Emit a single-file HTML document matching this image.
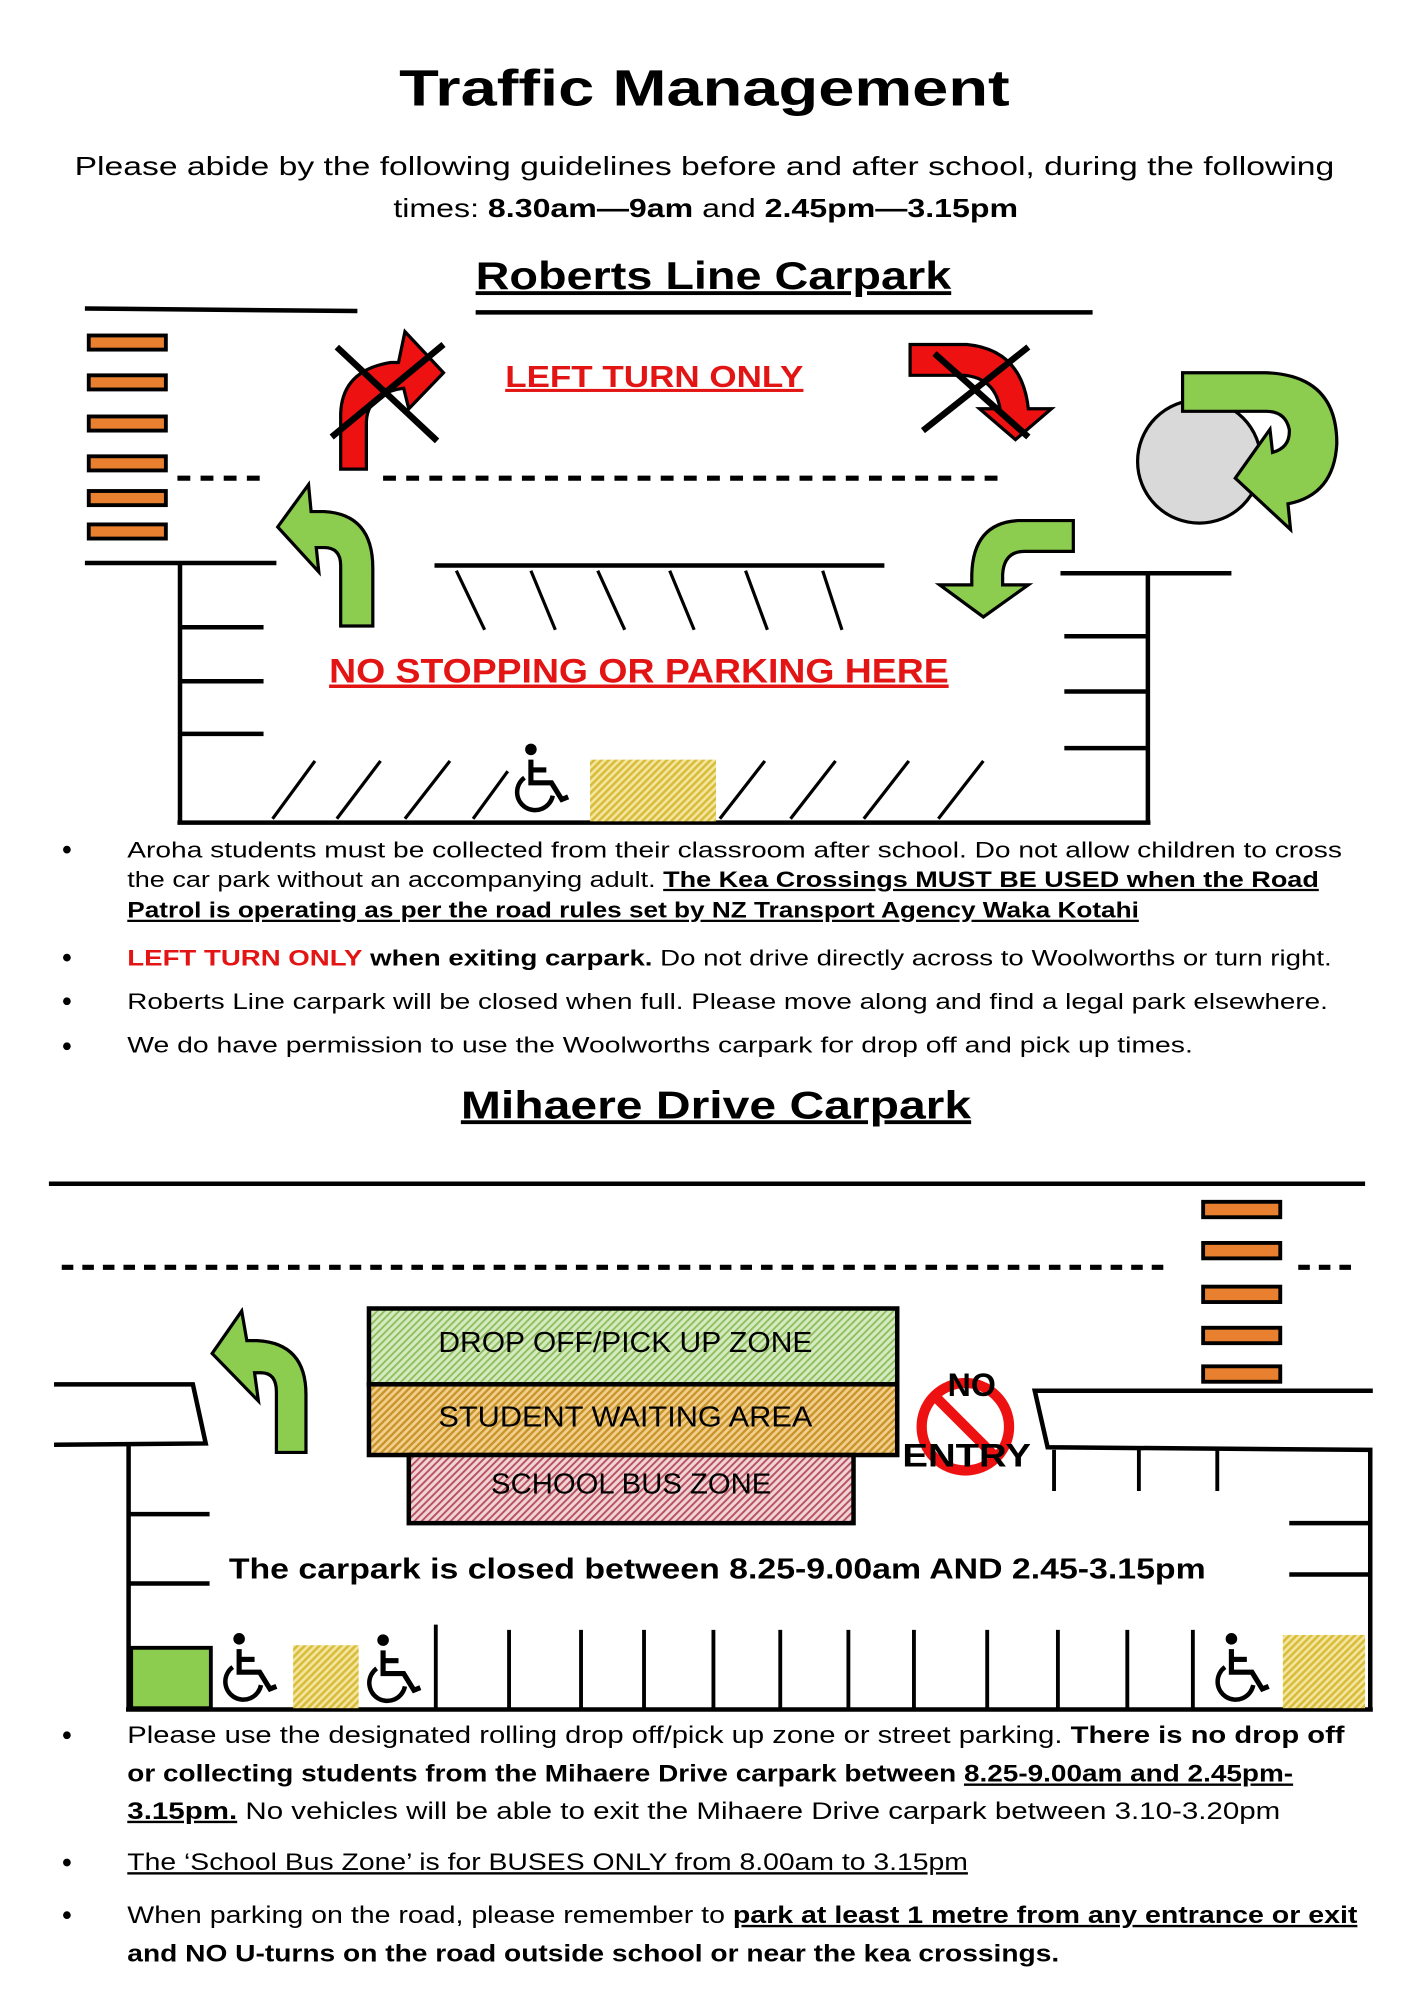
<!DOCTYPE html>
<html><head><meta charset="utf-8"><style>
html,body{margin:0;padding:0;background:#fff;}
svg{display:block;}
text{font-family:"Liberation Sans",sans-serif;}
</style></head><body>
<svg width="1414" height="2000" viewBox="0 0 1100 1556" xmlns="http://www.w3.org/2000/svg">
<defs>
<pattern id="hy" width="4" height="4" patternUnits="userSpaceOnUse" patternTransform="rotate(45)"><rect width="4" height="4" fill="#f3e6a0"/><rect width="2" height="4" fill="#d9bc3a"/></pattern>
<pattern id="hg" width="4" height="4" patternUnits="userSpaceOnUse" patternTransform="rotate(45)"><rect width="4" height="4" fill="#d6eac0"/><rect width="1.5" height="4" fill="#8fbf60"/></pattern>
<pattern id="ho" width="4" height="4" patternUnits="userSpaceOnUse" patternTransform="rotate(45)"><rect width="4" height="4" fill="#f1cf8a"/><rect width="1.8" height="4" fill="#c9932c"/></pattern>
<pattern id="hp" width="4" height="4" patternUnits="userSpaceOnUse" patternTransform="rotate(45)"><rect width="4" height="4" fill="#f0d3d6"/><rect width="1.5" height="4" fill="#b8525e"/></pattern>
<g id="wc" fill="none" stroke="#000" stroke-width="4">
<circle cx="16" cy="5" r="4.5" fill="#000" stroke="none"/>
<path d="M16 13 L16 31 L32 31 L40 44 L45 42" stroke-linejoin="miter"/>
<path d="M16 21 L28 21"/>
<path d="M11 27 A14 14 0 1 0 33 41" stroke-width="3.5"/>
</g>
</defs>

<!-- Header -->
<text x="548" y="82" text-anchor="middle" font-size="40" font-weight="bold" textLength="475" lengthAdjust="spacingAndGlyphs">Traffic Management</text>
<text x="548" y="136" text-anchor="middle" font-size="20" textLength="980" lengthAdjust="spacingAndGlyphs">Please abide by the following guidelines before and after school, during the following</text>
<text x="549" y="169" text-anchor="middle" font-size="20" textLength="486" lengthAdjust="spacingAndGlyphs">times:  <tspan font-weight="bold">8.30am—9am</tspan> and <tspan font-weight="bold">2.45pm—3.15pm</tspan></text>
<text x="555" y="225" text-anchor="middle" font-size="30" font-weight="bold" text-decoration="underline" textLength="370" lengthAdjust="spacingAndGlyphs">Roberts Line Carpark</text>

<!-- Roberts line drawing -->
<g stroke="#000" stroke-width="3.5" fill="none">
<line x1="66" y1="240" x2="278" y2="242"/>
<line x1="370" y1="243" x2="850" y2="243"/>
<line x1="138" y1="372" x2="210" y2="372" stroke-dasharray="10 8" stroke-width="4"/>
<line x1="298" y1="372" x2="778" y2="372" stroke-dasharray="10 8" stroke-width="4"/>
<line x1="66" y1="438" x2="215" y2="438"/>
<line x1="140" y1="438" x2="140" y2="640"/>
<line x1="140" y1="488" x2="205" y2="488"/>
<line x1="140" y1="530" x2="205" y2="530"/>
<line x1="140" y1="571" x2="205" y2="571"/>
<line x1="138" y1="640" x2="895" y2="640"/>
<line x1="338" y1="440" x2="688" y2="440"/>
<line x1="825" y1="446" x2="958" y2="446"/>
<line x1="893" y1="446" x2="893" y2="640"/>
<line x1="828" y1="495" x2="893" y2="495"/>
<line x1="828" y1="538" x2="893" y2="538"/>
<line x1="828" y1="582" x2="893" y2="582"/>
</g>
<g stroke="#000" stroke-width="2.5">
<line x1="355" y1="444" x2="377" y2="490"/><line x1="413" y1="444" x2="432" y2="490"/>
<line x1="465" y1="444" x2="486" y2="490"/><line x1="521" y1="444" x2="540" y2="490"/>
<line x1="580" y1="444" x2="597" y2="490"/><line x1="640" y1="444" x2="655" y2="490"/>
<line x1="212" y1="637" x2="245" y2="592"/><line x1="262" y1="637" x2="296" y2="592"/>
<line x1="315" y1="637" x2="350" y2="592"/><line x1="368" y1="637" x2="395" y2="600"/>
<line x1="560" y1="637" x2="595" y2="592"/><line x1="615" y1="637" x2="650" y2="592"/>
<line x1="672" y1="637" x2="707" y2="592"/><line x1="730" y1="637" x2="765" y2="592"/>
</g>
<!-- crossings left -->
<g fill="#e8802f" stroke="#000" stroke-width="3">
<rect x="69" y="261" width="60" height="11"/><rect x="69" y="292" width="60" height="11"/>
<rect x="69" y="324" width="60" height="11"/><rect x="69" y="355" width="60" height="11"/>
<rect x="69" y="382" width="60" height="11"/><rect x="69" y="408" width="60" height="11"/>
</g>
<rect x="459" y="591" width="98" height="48" fill="url(#hy)"/>
<use href="#wc" x="397" y="578"/>

<!-- red arrows -->
<path d="M265,365 L265,322 Q266,288 304,282 L310,282 L315,258 L345,290 L318,318 L314,302 Q286,306 285,328 L285,365 Z" fill="#ee1111" stroke="#000" stroke-width="2.5"/>
<g stroke="#000" stroke-width="5"><line x1="262" y1="270" x2="340" y2="343"/><line x1="258" y1="340" x2="345" y2="268"/></g>
<path d="M708,268 L752,268 Q795,272 800,318 L818,318 L790,342 L762,318 L778,318 Q774,294 750,292 L708,292 Z" fill="#ee1111" stroke="#000" stroke-width="2.5"/>
<g stroke="#000" stroke-width="5"><line x1="727" y1="275" x2="800" y2="340"/><line x1="718" y1="335" x2="800" y2="270"/></g>
<text x="393" y="301" font-size="24" font-weight="bold" fill="#e31414" text-decoration="underline" textLength="232" lengthAdjust="spacingAndGlyphs">LEFT TURN ONLY</text>

<!-- green arrows -->
<path d="M265,487 L265,440 Q265,426 252,426 L246,426 L248,445 L216,410 L240,377 L242,398 L252,398 Q290,400 290,442 L290,487 Z" fill="#8ccd50" stroke="#000" stroke-width="2.5"/>
<path d="M835,405 L792,405 Q757,407 756,447 L756,455 L731,455 L765,480 L800,455 L780,455 L780,447 Q781,429 797,429 L835,429 Z" fill="#8ccd50" stroke="#000" stroke-width="2.5"/>
<circle cx="933" cy="359" r="48" fill="#d9d9d9" stroke="#000" stroke-width="2.5"/>
<path d="M920,290 L985,290 Q1040,292 1040,345 Q1038,385 1002,392 L1004,412 L961,372 L988,334 L990,352 Q1004,348 1003,334 Q1000,320 985,320 L920,320 Z" fill="#8ccd50" stroke="#000" stroke-width="2.5"/>

<text x="256" y="531" font-size="27" font-weight="bold" fill="#e31414" text-decoration="underline" textLength="482" lengthAdjust="spacingAndGlyphs">NO STOPPING OR PARKING HERE</text>

<!-- Roberts bullets -->
<g font-size="17.5">
<circle cx="52" cy="661" r="3"/><circle cx="52" cy="745" r="3"/><circle cx="52" cy="779" r="3"/><circle cx="52" cy="814" r="3"/>
<text x="99" y="667" textLength="945" lengthAdjust="spacingAndGlyphs">Aroha students must be collected from their classroom after school. Do not allow children to cross</text>
<text x="99" y="690" textLength="927" lengthAdjust="spacingAndGlyphs">the car park without an accompanying adult.  <tspan font-weight="bold" text-decoration="underline">The Kea Crossings MUST BE USED when the Road</tspan></text>
<text x="99" y="714" font-weight="bold" text-decoration="underline" textLength="787" lengthAdjust="spacingAndGlyphs">Patrol is operating as per the road rules set by NZ Transport Agency Waka Kotahi</text>
<text x="99" y="751" textLength="937" lengthAdjust="spacingAndGlyphs"><tspan fill="#e31414" font-weight="bold">LEFT TURN ONLY</tspan> <tspan font-weight="bold">when exiting carpark.</tspan> Do not drive directly across to Woolworths or turn right.</text>
<text x="99" y="785" textLength="934" lengthAdjust="spacingAndGlyphs">Roberts Line carpark will be closed when full. Please move along and find a legal park elsewhere.</text>
<text x="99" y="819" textLength="829" lengthAdjust="spacingAndGlyphs">We do have permission to use the Woolworths carpark for drop off and pick up times.</text>
</g>

<text x="557" y="870" text-anchor="middle" font-size="30" font-weight="bold" text-decoration="underline" textLength="397" lengthAdjust="spacingAndGlyphs">Mihaere Drive Carpark</text>

<!-- Mihaere drawing -->
<g stroke="#000" stroke-width="3.5" fill="none">
<line x1="38" y1="921" x2="1062" y2="921"/>
<line x1="48" y1="986" x2="912" y2="986" stroke-dasharray="9 7" stroke-width="4"/>
<line x1="1010" y1="986" x2="1052" y2="986" stroke-dasharray="9 7" stroke-width="4"/>
<path d="M42,1077 L150,1077 L160,1123 L42,1124"/>
<line x1="100" y1="1124" x2="100" y2="1330"/>
<line x1="100" y1="1178" x2="163" y2="1178"/>
<line x1="100" y1="1232" x2="163" y2="1232"/>
<path d="M1068,1082 L805,1082 L815,1126 L1066,1128 L1066,1330"/>
<line x1="1003" y1="1185" x2="1066" y2="1185"/>
<line x1="1003" y1="1225" x2="1066" y2="1225"/>
<line x1="98" y1="1330" x2="1068" y2="1330"/>
</g>
<g stroke="#000" stroke-width="3">
<line x1="820" y1="1128" x2="820" y2="1160"/><line x1="886" y1="1128" x2="886" y2="1160"/><line x1="947" y1="1128" x2="947" y2="1160"/>
<line x1="339" y1="1264" x2="339" y2="1330"/><line x1="396" y1="1268" x2="396" y2="1330"/><line x1="452" y1="1268" x2="452" y2="1330"/>
<line x1="501" y1="1268" x2="501" y2="1330"/><line x1="555" y1="1268" x2="555" y2="1330"/><line x1="607" y1="1268" x2="607" y2="1330"/>
<line x1="660" y1="1268" x2="660" y2="1330"/><line x1="711" y1="1268" x2="711" y2="1330"/><line x1="768" y1="1268" x2="768" y2="1330"/>
<line x1="823" y1="1268" x2="823" y2="1330"/><line x1="877" y1="1268" x2="877" y2="1330"/><line x1="928" y1="1268" x2="928" y2="1330"/>
</g>
<g fill="#e8802f" stroke="#000" stroke-width="3">
<rect x="936" y="935" width="60" height="12"/><rect x="936" y="967" width="60" height="12"/>
<rect x="936" y="1001" width="60" height="12"/><rect x="936" y="1033" width="60" height="12"/>
<rect x="936" y="1063" width="60" height="12"/>
</g>
<path d="M215,1130 L215,1083 Q215,1068 203,1068 L198,1068 L201,1090 L165,1053 L188,1020 L192,1043 L200,1043 Q238,1045 238,1085 L238,1130 Z" fill="#8ccd50" stroke="#000" stroke-width="2.5"/>

<rect x="287" y="1018" width="411" height="59" fill="url(#hg)" stroke="#000" stroke-width="3.5"/>
<rect x="287" y="1077" width="411" height="55" fill="url(#ho)" stroke="#000" stroke-width="3.5"/>
<rect x="318" y="1132" width="346" height="53" fill="url(#hp)" stroke="#000" stroke-width="3.5"/>
<text x="341" y="1052" font-size="22" textLength="291" lengthAdjust="spacingAndGlyphs">DROP OFF/PICK UP ZONE</text>
<text x="341" y="1110" font-size="22" textLength="291" lengthAdjust="spacingAndGlyphs">STUDENT WAITING AREA</text>
<text x="382" y="1162" font-size="22" textLength="218" lengthAdjust="spacingAndGlyphs">SCHOOL BUS ZONE</text>

<circle cx="751" cy="1110" r="34" fill="none" stroke="#ee1111" stroke-width="8"/>
<line x1="728" y1="1087" x2="774" y2="1133" stroke="#ee1111" stroke-width="8"/>
<text x="756" y="1086" text-anchor="middle" font-size="25" font-weight="bold">NO</text>
<text x="752" y="1141" text-anchor="middle" font-size="25" font-weight="bold" textLength="100" lengthAdjust="spacingAndGlyphs">ENTRY</text>

<text x="178" y="1228" font-size="22" font-weight="bold" textLength="760" lengthAdjust="spacingAndGlyphs">The carpark is closed between 8.25-9.00am AND 2.45-3.15pm</text>

<rect x="102" y="1282" width="62" height="47" fill="#8ccd50" stroke="#000" stroke-width="3"/>
<rect x="228" y="1280" width="51" height="49" fill="url(#hy)"/>
<rect x="998" y="1272" width="64" height="57" fill="url(#hy)"/>
<use href="#wc" x="170" y="1270"/>
<use href="#wc" x="282" y="1271"/>
<use href="#wc" x="942" y="1270"/>

<!-- Mihaere bullets -->
<g font-size="18.5">
<circle cx="52" cy="1350" r="3"/><circle cx="52" cy="1449" r="3"/><circle cx="52" cy="1490" r="3"/>
<text x="99" y="1356" textLength="947" lengthAdjust="spacingAndGlyphs">Please use the designated rolling drop off/pick up zone or street parking.  <tspan font-weight="bold">There is no drop off</tspan></text>
<text x="99" y="1386" font-weight="bold" textLength="907" lengthAdjust="spacingAndGlyphs">or collecting students from the Mihaere Drive carpark between  <tspan text-decoration="underline">8.25-9.00am and 2.45pm-</tspan></text>
<text x="99" y="1415" textLength="897" lengthAdjust="spacingAndGlyphs"><tspan font-weight="bold" text-decoration="underline">3.15pm.</tspan>  No vehicles will be able to exit the Mihaere Drive carpark between 3.10-3.20pm</text>
<text x="99" y="1455" text-decoration="underline" textLength="654" lengthAdjust="spacingAndGlyphs">The ‘School Bus Zone’ is for BUSES ONLY from 8.00am to 3.15pm</text>
<text x="99" y="1496" textLength="957" lengthAdjust="spacingAndGlyphs">When parking on the road, please remember to <tspan font-weight="bold" text-decoration="underline">park at least 1 metre from any entrance or exit</tspan></text>
<text x="99" y="1526" font-weight="bold" textLength="725" lengthAdjust="spacingAndGlyphs">and NO U-turns on the road outside school or near the kea crossings.</text>
</g>
</svg>
</body></html>
